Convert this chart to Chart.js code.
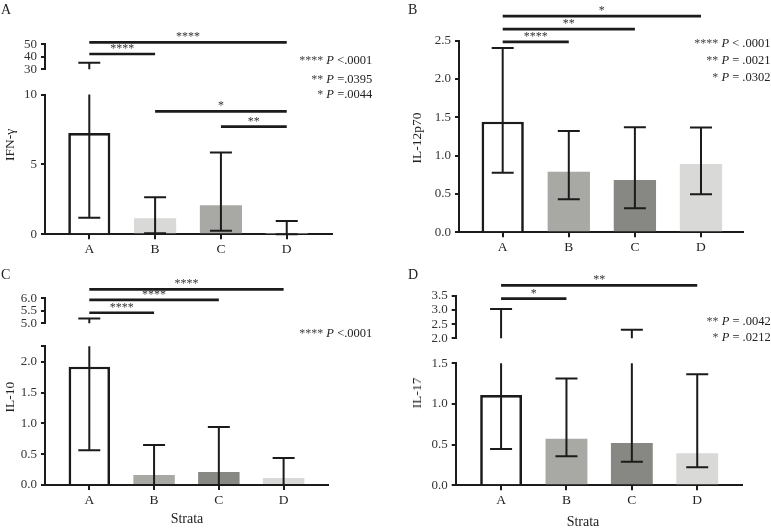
<!DOCTYPE html>
<html>
<head>
<meta charset="utf-8">
<script src="https://cdn.jsdelivr.net/npm/chart.js@4.4.1/dist/chart.umd.min.js"></script>
<style>
  html, body { margin: 0; padding: 0; background: #fff; }
  body { position: relative; width: 771px; height: 528px; overflow: hidden;
         font-family: 'Liberation Serif', 'DejaVu Serif', serif; color: #222; }
  canvas { position: absolute; }
  .txt { position: absolute; white-space: nowrap; }
  .letter { font-size: 14px; line-height: 14px; }
  .note { font-size: 12.5px; line-height: 14px; text-align: right; }
  .note i { font-style: italic; }
  .note .st { color: #444; font-size: 12px; }
  .ytitle { font-size: 13.5px; line-height: 14px; transform: translate(-50%, -50%) rotate(-90deg); }
  .xtitle { font-size: 14px; line-height: 14px; transform: translate(-50%, -50%); }
</style>
</head>
<body>
<script>
/* Four cytokine panels by strata, GraphPad style with broken y axes. */

/* ---------- Data ---------- */
var strata = ['A', 'B', 'C', 'D'];

// IFN-γ
var ifnMean = [7.25, 1.14, 2.08, 0.03];
var ifnLow = [1.18, 0.07, 0.26, 0.0];
var ifnHigh = [35.2, 2.65, 5.85, 0.95];
var ifnTicksUpper = [30, 40, 50];
var ifnLabelsUpper = ['30', '40', '50'];
var ifnTicksLower = [0, 5, 10];
var ifnLabelsLower = ['0', '5', '10'];
var ifnPairs = [[0, 3], [0, 1], [1, 3], [2, 3]];
var ifnPairY = [51.5, 42.2, 8.79, 7.7];
var ifnStars = ['****', '****', '*', '**'];
var ifnNotes = [['****', 'P', '<.0001'], ['**', 'P', '=.0395'], ['*', 'P', '=.0044']];

// IL-12p70
var il12Mean = [1.444, 0.791, 0.683, 0.892];
var il12Low = [0.778, 0.431, 0.313, 0.496];
var il12High = [2.406, 1.322, 1.371, 1.366];
var il12Ticks = [0, 0.5, 1, 1.5, 2, 2.5];
var il12Labels = ['0.0', '0.5', '1.0', '1.5', '2.0', '2.5'];
var il12Pairs = [[0, 3], [0, 2], [0, 1]];
var il12PairY = [2.82, 2.65, 2.484];
var il12Stars = ['*', '**', '****'];
var il12Notes = [['****', 'P', '< .0001'], ['**', 'P', '= .0021'], ['*', 'P', '= .0302']];

// IL-10
var il10Mean = [1.92, 0.162, 0.211, 0.114];
var il10Low = [0.563, 0, 0, 0];
var il10High = [5.19, 0.649, 0.94, 0.438];
var il10TicksUpper = [5, 5.5, 6];
var il10LabelsUpper = ['5.0', '5.5', '6.0'];
var il10TicksLower = [0, 0.5, 1, 1.5, 2, 2.25];
var il10LabelsLower = ['0.0', '0.5', '1.0', '1.5', '2.0', ''];
var il10Pairs = [[0, 3], [0, 2], [0, 1]];
var il10PairY = [6.36, 5.94, 5.42];
var il10Stars = ['****', '****', '****'];
var il10Notes = [['****', 'P', '<.0001']];

// IL-17
var il17Mean = [1.11, 0.572, 0.519, 0.393];
var il17Low = [0.445, 0.356, 0.29, 0.221];
var il17High = [3.04, 1.313, 2.3, 1.366];
var il17TicksUpper = [2, 2.5, 3, 3.5];
var il17LabelsUpper = ['2.0', '2.5', '3.0', '3.5'];
var il17TicksLower = [0, 0.5, 1, 1.5];
var il17LabelsLower = ['0.0', '0.5', '1.0', '1.5'];
var il17Pairs = [[0, 3], [0, 1]];
var il17PairY = [3.88, 3.41];
var il17Stars = ['**', '*'];
var il17Notes = [['**', 'P', '= .0042'], ['*', 'P', '= .0212']];

/* ---------- Theme ---------- */
var FONT = "'Liberation Serif', 'DejaVu Serif', serif";
var INK = '#1b1b1b';
Chart.defaults.font.family = FONT;
Chart.defaults.color = '#2a2a2a';
Chart.defaults.animation = false;
Chart.defaults.plugins.legend.display = false;
Chart.defaults.plugins.tooltip.enabled = false;

var greysA = ['#ffffff', '#d9d9d7', '#a8a8a5', '#878783'];
var greys = ['#ffffff', '#a8a8a5', '#878783', '#d9d9d7'];

/* ---------- Error bars + significance brackets ----------
   Each chart only draws the part of a whisker that falls inside its own
   y range, so a broken axis is two charts stacked on top of each other. */
Chart.register({
  id: 'sigMarks',
  afterDatasetsDraw: function (chart) {
    var m = chart.options.plugins.sigMarks;
    if (!m) return;
    var x = chart.scales.x, y = chart.scales.y, ctx = chart.ctx;
    ctx.save();
    ctx.strokeStyle = INK;
    ctx.lineWidth = 2;
    ctx.lineCap = 'butt';
    m.high.forEach(function (hi, i) {
      var lo = m.low[i];
      var top = Math.min(hi, y.max), bot = Math.max(lo, y.min);
      if (top < bot) return;
      var px = x.getPixelForValue(i);
      ctx.beginPath();
      ctx.moveTo(px, y.getPixelForValue(bot));
      ctx.lineTo(px, y.getPixelForValue(top));
      [hi, lo].forEach(function (v) {
        if (v < y.min || v > y.max) return;
        var py = y.getPixelForValue(v);
        ctx.moveTo(px - 11, py);
        ctx.lineTo(px + 11, py);
      });
      ctx.stroke();
    });
    ctx.lineWidth = 2.7;
    ctx.fillStyle = '#333';
    ctx.font = '12px ' + FONT;
    ctx.textAlign = 'center';
    ctx.textBaseline = 'alphabetic';
    m.pairs.forEach(function (p, k) {
      var v = m.pairY[k];
      if (v <= m.from || v > m.to) return;
      var x0 = x.getPixelForValue(p[0]), x1 = x.getPixelForValue(p[1]);
      var py = y.getPixelForValue(v);
      ctx.beginPath();
      ctx.moveTo(x0, py);
      ctx.lineTo(x1, py);
      ctx.stroke();
      ctx.fillText(m.stars[k], (x0 + x1) / 2, py - 2);
    });
    ctx.restore();
  }
});

/* ---------- One chart per axis segment ----------
   area = page box of the plot area; the canvas is placed around it. */
function segment(area, o) {
  var YW = 40, PT = 36, PR = 6, PB = 2;
  var XH = o.showX ? 26 : 0;
  var left = Math.floor(area.l - YW), top = Math.floor(area.t - PT);
  var width = Math.ceil(area.r + PR) - left;
  var height = Math.ceil(area.b + XH + PB) - top;
  var cv = document.createElement('canvas');
  cv.width = width; cv.height = height;
  cv.style.left = left + 'px'; cv.style.top = top + 'px';
  cv.style.width = width + 'px'; cv.style.height = height + 'px';
  document.body.appendChild(cv);

  new Chart(cv, {
    type: 'bar',
    data: {
      datasets: [{
        data: o.mean.map(function (v, i) { return { x: i, y: v }; }),
        backgroundColor: o.colors,
        borderColor: INK,
        borderWidth: [2.7, 0, 0, 0],
        borderSkipped: 'start',
        barPercentage: 0.64,
        categoryPercentage: 1
      }]
    },
    options: {
      responsive: false,
      devicePixelRatio: 1,
      layout: { padding: {
        left: area.l - YW - left,
        top: area.t - top,
        right: left + width - area.r,
        bottom: top + height - area.b - XH
      } },
      scales: {
        x: {
          type: 'linear', display: o.showX, min: o.xMin, max: o.xMax, offset: false,
          afterBuildTicks: function (s) { s.ticks = strata.map(function (c, i) { return { value: i }; }); },
          afterFit: function (s) { s.height = XH; },
          ticks: { autoSkip: false, maxRotation: 0, callback: function (v) { return strata[v]; }, font: { size: 13.5 }, padding: 2, color: '#222' },
          grid: { offset: false, drawOnChartArea: false, tickLength: 5, color: INK, lineWidth: 2 },
          border: { color: INK, width: 2 }
        },
        y: {
          min: o.yMin, max: o.yMax,
          afterBuildTicks: function (s) { s.ticks = o.ticks.map(function (v) { return { value: v }; }); },
          afterFit: function (s) { s.width = YW; },
          ticks: { autoSkip: false, callback: function (v, i) { return o.labels[i]; }, font: { size: 13 }, padding: 4, color: '#333' },
          grid: { drawOnChartArea: false, tickLength: 4, color: INK, lineWidth: 2 },
          border: { color: INK, width: 2 }
        }
      },
      plugins: { sigMarks: {
        low: o.low, high: o.high, pairs: o.pairs, pairY: o.pairY, stars: o.stars,
        from: o.bracketFrom, to: o.bracketTo
      } }
    }
  });
}

/* ---------- HTML text: letters, notes, titles ---------- */
function addText(cls, html, css) {
  var d = document.createElement('div');
  d.className = 'txt ' + cls;
  d.innerHTML = html;
  for (var k in css) d.style[k] = css[k];
  document.body.appendChild(d);
}
function notes(list, right, ys) {
  list.forEach(function (n, i) {
    addText('note', '<span class="st">' + n[0] + '</span> <i>' + n[1] + '</i> ' + n[2],
      { right: (771 - right) + 'px', top: (ys[i] - 7) + 'px' });
  });
}

/* ---------- Panel A: IFN-γ ---------- */
var aCommon = { mean: ifnMean, low: ifnLow, high: ifnHigh, colors: greysA,
  pairs: ifnPairs, pairY: ifnPairY, stars: ifnStars, xMin: -0.673, xMax: 3.683 };
segment({ l: 45, r: 331.7, t: 44.3, b: 78.7 }, Object.assign({}, aCommon,
  { showX: false, yMin: 30, yMax: 50, ticks: ifnTicksUpper, labels: ifnLabelsUpper, bracketFrom: 10, bracketTo: 99 }));
segment({ l: 45, r: 331.7, t: 94.5, b: 234.3 }, Object.assign({}, aCommon,
  { showX: true, yMin: 0, yMax: 10, ticks: ifnTicksLower, labels: ifnLabelsLower, bracketFrom: -1, bracketTo: 10 }));

/* ---------- Panel B: IL-12p70 ---------- */
segment({ l: 459, r: 743.3, t: 40.7, b: 232.3 }, { mean: il12Mean, low: il12Low, high: il12High,
  colors: greys, pairs: il12Pairs, pairY: il12PairY, stars: il12Stars, xMin: -0.661, xMax: 3.64,
  showX: true, yMin: 0, yMax: 2.5, ticks: il12Ticks, labels: il12Labels, bracketFrom: -1, bracketTo: 99 });

/* ---------- Panel C: IL-10 ---------- */
var cCommon = { mean: il10Mean, low: il10Low, high: il10High, colors: greys,
  pairs: il10Pairs, pairY: il10PairY, stars: il10Stars, xMin: -0.684, xMax: 3.69 };
segment({ l: 45, r: 328.3, t: 298.3, b: 332.3 }, Object.assign({}, cCommon,
  { showX: false, yMin: 5, yMax: 6, ticks: il10TicksUpper, labels: il10LabelsUpper, bracketFrom: 2.25, bracketTo: 99 }));
segment({ l: 45, r: 328.3, t: 346.3, b: 485 }, Object.assign({}, cCommon,
  { showX: true, yMin: 0, yMax: 2.25, ticks: il10TicksLower, labels: il10LabelsLower, bracketFrom: -1, bracketTo: 2.25 }));

/* ---------- Panel D: IL-17 ---------- */
var dCommon = { mean: il17Mean, low: il17Low, high: il17High, colors: greys,
  pairs: il17Pairs, pairY: il17PairY, stars: il17Stars, xMin: -0.694, xMax: 3.68 };
segment({ l: 455.7, r: 741.7, t: 296, b: 347.7 }, Object.assign({}, dCommon,
  { showX: false, yMin: 2, yMax: 3.5, ticks: il17TicksUpper, labels: il17LabelsUpper, bracketFrom: 1.5, bracketTo: 99 }));
segment({ l: 455.7, r: 741.7, t: 363.3, b: 485.3 }, Object.assign({}, dCommon,
  { showX: true, yMin: 0, yMax: 1.5, ticks: il17TicksLower, labels: il17LabelsLower, bracketFrom: -1, bracketTo: 1.5 }));

/* ---------- Labels ---------- */
addText('letter', 'A', { left: '1px', top: '2.5px' });
addText('letter', 'B', { left: '408px', top: '2.5px' });
addText('letter', 'C', { left: '1px', top: '267.5px' });
addText('letter', 'D', { left: '408px', top: '267.5px' });

notes(ifnNotes, 372.3, [60.3, 78.7, 94]);
notes(il12Notes, 770.5, [43.3, 60, 76.7]);
notes(il10Notes, 372.3, [332.7]);
notes(il17Notes, 770.7, [321, 336.7]);

addText('ytitle', 'IFN-γ', { left: '10px', top: '145px' });
addText('ytitle', 'IL-12p70', { left: '417px', top: '138px' });
addText('ytitle', 'IL-10', { left: '10px', top: '397px' });
addText('ytitle', 'IL-17', { left: '417px', top: '393px' });
addText('xtitle', 'Strata', { left: '187px', top: '519px' });
addText('xtitle', 'Strata', { left: '583px', top: '521.5px' });
</script>
</body>
</html>
